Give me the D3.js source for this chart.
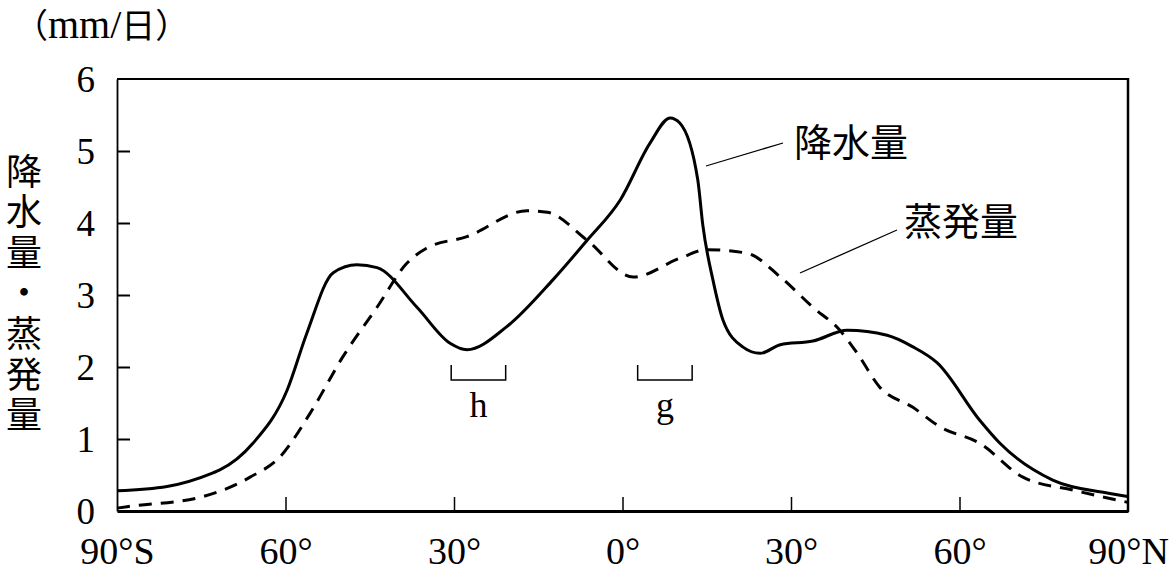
<!DOCTYPE html>
<html><head><meta charset="utf-8">
<script src="https://cdn.jsdelivr.net/npm/d3@7"></script>
<style>
html,body{margin:0;padding:0;background:#fff;}
#wrap{position:relative;width:1172px;height:572px;}
svg{display:block;position:absolute;left:0;top:0;}
#ytitle{position:absolute;left:6px;top:153px;writing-mode:vertical-rl;
  font-family:'Noto Sans CJK JP','Noto Sans CJK SC',sans-serif;font-size:36px;line-height:36px;
  letter-spacing:4.6px;color:#000;white-space:nowrap;}
</style></head>
<body>
<div id="wrap">
<svg id="chart" width="1172" height="572"></svg>
<div id="ytitle"></div>
</div>
<script>
// ---- data ----
const precipLat = [-90,-81.1,-72.9,-71.7,-65.8,-59.7,-56.2,-51.5,-47.3,-43.7,-36.6,-30.7,-27.7,-20.6,-12.4,-6.3,-0.4,4.9,8.5,10.2,13.4,14.3,16.1,17.9,21.4,24.5,28.1,33.9,40,47.1,51.7,56,63.6,67.2,76.6,86.3,90];
const precipVal = [0.28,0.34,0.53,0.57,0.94,1.68,2.47,3.31,3.42,3.38,2.83,2.33,2.24,2.56,3.21,3.76,4.32,5.11,5.46,5.39,4.6,3.97,3.21,2.65,2.28,2.19,2.31,2.36,2.51,2.44,2.28,2.06,1.26,0.94,0.43,0.25,0.2];
const evapLat = [-90,-88.2,-75.2,-66.3,-61,-55.6,-49.8,-43.7,-38.4,-34.9,-27.7,-17,-13.4,-6.3,1.9,10.2,15,22.2,28.1,33.9,38.7,41.8,45.8,51.7,56.5,63.6,71.3,80.2,90];
const evapVal = [0.04,0.06,0.19,0.47,0.75,1.36,2.14,2.83,3.44,3.65,3.81,4.17,4.15,3.76,3.25,3.51,3.63,3.58,3.25,2.83,2.51,2.19,1.72,1.44,1.17,0.94,0.47,0.29,0.12];
const xTickVals = [-90,-60,-30,0,30,60,90];
const xTickLabels = ["90°S","60°","30°","0°","30°","60°","90°N"];
const yTickVals = [0,1,2,3,4,5,6];
const yTitle = "降水量・蒸発量";
const unitParts = ["（","mm/","日","）"];
const seriesNames = ["降水量","蒸発量"];
const bracketNames = ["h","g"];
const bracketLat = [[-30.5,-20.8],[2.7,12.4]];

// ---- layout ----
const L = 117, R = 1128, T = 79, B = 511;
const svg = d3.select("#chart");
const x = d3.scaleLinear().domain([-90,90]).range([L,R]);
const y = d3.scaleLinear().domain([0,6]).range([B,T]);
const serif = "'Liberation Serif','DejaVu Serif',serif";
const jp = "'Noto Sans CJK JP','Noto Sans CJK SC',sans-serif";

// curves
const line = d3.line().x(d=>x(d[0])).y(d=>y(d[1])).curve(d3.curveMonotoneX);
svg.append("path").datum(d3.zip(evapLat, evapVal)).attr("d", line)
  .attr("fill","none").attr("stroke","#000").attr("stroke-width",3)
  .attr("stroke-dasharray","13,9");
svg.append("path").datum(d3.zip(precipLat, precipVal)).attr("d", line)
  .attr("fill","none").attr("stroke","#000").attr("stroke-width",3);

// frame
svg.append("line").attr("x1",L).attr("x2",R).attr("y1",T).attr("y2",T).attr("stroke","#000").attr("stroke-width",2);
svg.append("line").attr("x1",R).attr("x2",R).attr("y1",T-1).attr("y2",B+1).attr("stroke","#000").attr("stroke-width",2.5);

// axes
const xAxis = d3.axisBottom(x).tickValues(xTickVals).tickSizeInner(-14).tickSizeOuter(0).tickFormat((d,i)=>xTickLabels[i]);
const gx = svg.append("g").attr("transform",`translate(0,${B})`).call(xAxis);
gx.select(".domain").attr("stroke-width",3);
gx.selectAll(".tick line").attr("stroke-width",1.5);
gx.selectAll(".tick text").attr("font-family",serif).attr("font-size",38).attr("fill","#000").attr("dy",0).attr("y",53);
gx.selectAll(".tick").filter(d=>d===-90||d===90).select("line").remove();

const yAxis = d3.axisLeft(y).tickValues(yTickVals).tickSizeInner(-13).tickSizeOuter(0).tickFormat(d3.format("d"));
const gy = svg.append("g").attr("transform",`translate(${L},0)`).call(yAxis);
gy.select(".domain").attr("stroke-width",1.8);
gy.selectAll(".tick line").attr("stroke-width",2);
gy.selectAll(".tick text").attr("font-family",serif).attr("font-size",37).attr("fill","#000").attr("x",-22).attr("dy","0.34em");
gy.selectAll(".tick").filter(d=>d===0||d===6).select("line").remove();

// unit label
const unit = svg.append("text").attr("x",14).attr("y",38).attr("font-size",38).attr("fill","#000");
unit.selectAll("tspan").data(unitParts).enter().append("tspan")
  .attr("font-family",(d,i)=>(i===1?serif:jp))
  .attr("font-size",(d,i)=>(i===1?40:34))
  .text(d=>d);

// y title (vertical writing)
d3.select("#ytitle").text(yTitle);

// series labels with leader lines
svg.append("line").attr("x1",706).attr("y1",166).attr("x2",783).attr("y2",143).attr("stroke","#000").attr("stroke-width",1.3);
svg.append("text").attr("x",794).attr("y",142).attr("dy","0.36em").attr("font-family",jp).attr("font-size",38).attr("fill","#000").text(seriesNames[0]);
svg.append("line").attr("x1",800).attr("y1",273).attr("x2",897).attr("y2",230).attr("stroke","#000").attr("stroke-width",1.3);
svg.append("text").attr("x",904).attr("y",221).attr("dy","0.36em").attr("font-family",jp).attr("font-size",38).attr("fill","#000").text(seriesNames[1]);

// brackets
bracketLat.forEach((b,i)=>{
  const x0 = x(b[0]), x1 = x(b[1]);
  svg.append("path").attr("d",`M${x0},365V380H${x1}V365`).attr("fill","none").attr("stroke","#000").attr("stroke-width",1.5);
  svg.append("text").attr("x",(x0+x1)/2).attr("y",417).attr("text-anchor","middle")
    .attr("font-family",serif).attr("font-size",36).attr("fill","#000").text(bracketNames[i]);
});
</script>
</body></html>
